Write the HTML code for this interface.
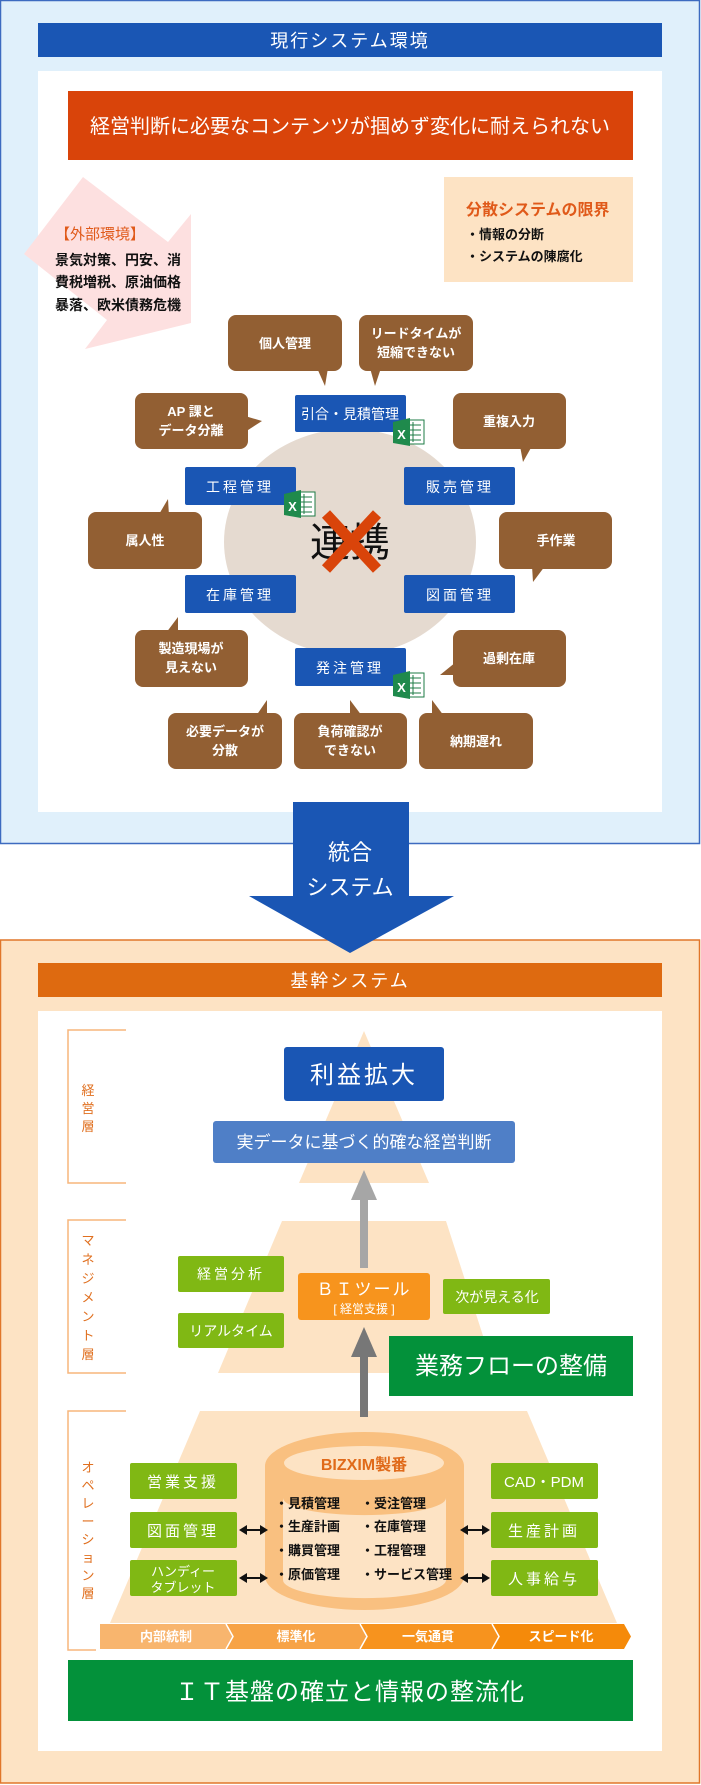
<!DOCTYPE html>
<html><head><meta charset="utf-8"><style>
html,body{margin:0;padding:0;background:#fff;}
svg{display:block;font-family:"Liberation Sans","Noto Sans CJK JP",sans-serif;}
.w{fill:#fff;}
.b{font-weight:bold;}
</style></head><body>
<svg width="701" height="1785" viewBox="0 0 701 1785" xmlns="http://www.w3.org/2000/svg">
<!-- TOP SECTION -->
<rect x="0.5" y="0.5" width="699" height="843" fill="#e0f0fb" stroke="#3d6bc0" stroke-width="1.5"/>
<rect x="38" y="23" width="624" height="34" fill="#1a56b4"/>
<text x="350" y="47" text-anchor="middle" class="w" font-size="18" letter-spacing="2">現行システム環境</text>
<rect x="38" y="71" width="624" height="741" fill="#fff"/>
<rect x="68" y="91" width="565" height="69" fill="#d9440a"/>
<text x="350" y="133" text-anchor="middle" class="w" font-size="20">経営判断に必要なコンテンツが掴めず変化に耐えられない</text>
<polygon points="83,177 168,242 191,214 191,323 85,349 107,320 24,254" fill="#fde0e0"/>
<text x="55" y="239" fill="#e05a1a" font-size="15">【外部環境】</text>
<text x="55" y="265" font-size="14" class="b" fill="#111">景気対策、円安、消</text>
<text x="55" y="287" font-size="14" class="b" fill="#111">費税増税、原油価格</text>
<text x="55" y="310" font-size="14" class="b" fill="#111">暴落、欧米債務危機</text>
<rect x="444" y="177" width="189" height="105" fill="#fde3c4"/>
<text x="466" y="215" fill="#e05a1a" font-size="16" class="b">分散システムの限界</text>
<text x="466" y="239" fill="#111" font-size="13" class="b">・情報の分断</text>
<text x="466" y="261" fill="#111" font-size="13" class="b">・システムの陳腐化</text>

<ellipse cx="350" cy="542" rx="126" ry="113" fill="#e5dad0"/>
<text x="350" y="556" text-anchor="middle" font-size="40" fill="#111">連携</text>
<line x1="326" y1="514" x2="377" y2="569" stroke="#d9440a" stroke-width="11"/>
<line x1="377" y1="514" x2="326" y2="569" stroke="#d9440a" stroke-width="11"/>

<g font-size="14" class="w" text-anchor="middle">
<rect x="295" y="395" width="111" height="37" rx="2" fill="#1a56b4"/><text x="350" y="419">引合・見積管理</text>
<rect x="185" y="467" width="111" height="38" rx="2" fill="#1a56b4"/><text x="240" y="492" letter-spacing="3">工程管理</text>
<rect x="404" y="467" width="111" height="38" rx="2" fill="#1a56b4"/><text x="460" y="492" letter-spacing="3">販売管理</text>
<rect x="185" y="575" width="111" height="38" rx="2" fill="#1a56b4"/><text x="240" y="600" letter-spacing="3">在庫管理</text>
<rect x="404" y="575" width="111" height="38" rx="2" fill="#1a56b4"/><text x="460" y="600" letter-spacing="3">図面管理</text>
<rect x="295" y="648" width="111" height="38" rx="2" fill="#1a56b4"/><text x="350" y="673" letter-spacing="3">発注管理</text>
</g>
<!-- excel icons -->
<g id="xl">
<rect x="405" y="420" width="19" height="24" fill="#fff" stroke="#1e7b45" stroke-width="1"/>
<g stroke="#1e7b45" stroke-width="1"><line x1="408" y1="425" x2="421" y2="425"/><line x1="408" y1="430" x2="421" y2="430"/><line x1="408" y1="435" x2="421" y2="435"/><line x1="408" y1="440" x2="421" y2="440"/><line x1="413" y1="422" x2="413" y2="442"/></g>
<polygon points="393,422 410,418 410,446 393,443" fill="#1f8a4c"/>
<text x="401.5" y="439" text-anchor="middle" font-size="13" class="b w">X</text>
</g>
<use href="#xl" x="-109" y="72"/>
<use href="#xl" x="0" y="253"/>

<!-- bubbles -->
<g fill="#925f33">
<rect x="228" y="315" width="114" height="56" rx="8"/><polygon points="317,368 328,368 325,386"/>
<rect x="359" y="315" width="114" height="56" rx="8"/><polygon points="370,368 381,368 375,386"/>
<rect x="135" y="393" width="113" height="56" rx="8"/><polygon points="245,416 262,421 245,432"/>
<rect x="453" y="393" width="113" height="56" rx="8"/><polygon points="520,446 532,446 523,462"/>
<rect x="88" y="512" width="114" height="57" rx="8"/><polygon points="158,516 169,516 168,499"/>
<rect x="499" y="512" width="113" height="57" rx="8"/><polygon points="532,566 545,566 533,582"/>
<rect x="135" y="630" width="113" height="57" rx="8"/><polygon points="166,633 178,633 178,617"/>
<rect x="453" y="630" width="113" height="57" rx="8"/><polygon points="456,662 456,675 440,675"/>
<rect x="168" y="713" width="114" height="56" rx="8"/><polygon points="256,716 267,716 267,700"/>
<rect x="294" y="713" width="113" height="56" rx="8"/><polygon points="350,716 362,716 350,700"/>
<rect x="419" y="713" width="114" height="56" rx="8"/><polygon points="432,700 432,716 444,716"/>
</g>
<g class="w b" font-size="13" text-anchor="middle">
<text x="285" y="348">個人管理</text>
<text x="416" y="338">リードタイムが</text><text x="416" y="357">短縮できない</text>
<text x="191" y="416">AP 課と</text><text x="191" y="435">データ分離</text>
<text x="509" y="426">重複入力</text>
<text x="145" y="545">属人性</text>
<text x="556" y="545">手作業</text>
<text x="191" y="653">製造現場が</text><text x="191" y="672">見えない</text>
<text x="509" y="663">過剰在庫</text>
<text x="225" y="736">必要データが</text><text x="225" y="755">分散</text>
<text x="350" y="736">負荷確認が</text><text x="350" y="755">できない</text>
<text x="476" y="746">納期遅れ</text>
</g>

<!-- BOTTOM SECTION -->
<rect x="0.5" y="940" width="699" height="843" fill="#fde3c4" stroke="#e0762a" stroke-width="1.5"/>
<!-- big arrow -->
<polygon points="293,802 409,802 409,896 454,896 350,953 249,896 293,896" fill="#1a56b4"/>
<text x="350" y="860" text-anchor="middle" class="w" font-size="22">統合</text>
<text x="350" y="895" text-anchor="middle" class="w" font-size="22">システム</text>

<rect x="38" y="963" width="624" height="34" fill="#de6a10"/>
<text x="350" y="987" text-anchor="middle" class="w" font-size="18" letter-spacing="2">基幹システム</text>
<rect x="38" y="1011" width="624" height="740" fill="#fff"/>

<!-- brackets -->
<g fill="none" stroke="#f7b57c" stroke-width="1.5">
<polyline points="126,1030 68,1030 68,1183 126,1183"/>
<polyline points="126,1220 68,1220 68,1373 126,1373"/>
<polyline points="126,1411 68,1411 68,1650 96,1650"/>
</g>
<g fill="#e07020" font-size="13" text-anchor="middle">
<text x="88" y="1095">経</text><text x="88" y="1113">営</text><text x="88" y="1131">層</text>
<text x="88" y="1245">マ</text><text x="88" y="1264">ネ</text><text x="88" y="1283">ジ</text><text x="88" y="1302">メ</text><text x="88" y="1321">ン</text><text x="88" y="1340">ト</text><text x="88" y="1359">層</text>
<text x="88" y="1472">オ</text><text x="88" y="1490">ペ</text><text x="88" y="1508">レ</text><text x="88" y="1526">ー</text><text x="88" y="1544">シ</text><text x="88" y="1562">ョ</text><text x="88" y="1580">ン</text><text x="88" y="1598">層</text>
</g>

<!-- pyramid -->
<polygon points="364,1031 429,1183 299,1183" fill="#fde3c4"/>
<polygon points="282,1221 446,1221 495,1373 218,1373" fill="#fde3c4"/>
<polygon points="200,1411 527,1411 617,1623 110,1623" fill="#fde3c4"/>

<rect x="284" y="1047" width="160" height="54" rx="3" fill="#1a56b4"/>
<text x="364" y="1083" text-anchor="middle" class="w" font-size="24" letter-spacing="3">利益拡大</text>
<rect x="213" y="1121" width="302" height="42" rx="3" fill="#4f7fc7"/>
<text x="364" y="1148" text-anchor="middle" class="w" font-size="17">実データに基づく的確な経営判断</text>

<!-- gray arrow -->
<rect x="360" y="1195" width="8" height="73" fill="#a6a6a6"/>
<polygon points="364,1170 377,1200 351,1200" fill="#a6a6a6"/>

<g class="w" font-size="14" text-anchor="middle">
<rect x="178" y="1256" width="106" height="36" rx="2" fill="#80b814"/><text x="231" y="1279" letter-spacing="3">経営分析</text>
<rect x="178" y="1313" width="106" height="35" rx="2" fill="#80b814"/><text x="231" y="1336">リアルタイム</text>
<rect x="443" y="1279" width="107" height="35" rx="2" fill="#80b814"/><text x="497" y="1302">次が見える化</text>
</g>
<rect x="298" y="1273" width="132" height="47" rx="3" fill="#f7941d"/>
<text x="364" y="1295" text-anchor="middle" class="w" font-size="17" letter-spacing="2">ＢＩツール</text>
<text x="364" y="1313" text-anchor="middle" class="w" font-size="12">[ 経営支援 ]</text>

<rect x="360" y="1350" width="8" height="67" fill="#777"/>
<polygon points="364,1327 377,1357 351,1357" fill="#777"/>

<rect x="389" y="1336" width="244" height="60" fill="#03913a"/>
<text x="511" y="1374" text-anchor="middle" class="w" font-size="24">業務フローの整備</text>

<!-- cylinder -->
<path d="M265,1466 A99.5,34 0 0 1 464,1466 L464,1576 A99.5,34 0 0 1 265,1576 Z" fill="#f9c080"/>
<ellipse cx="364" cy="1463" rx="80" ry="17" fill="#fde3c4"/>
<path d="M283,1498 A81,17 0 0 0 446,1498 L446,1580 A81,18 0 0 1 283,1580 Z" fill="#fde3c4"/>
<text x="364" y="1470" text-anchor="middle" fill="#e06a1a" class="b" font-size="16">BIZXIM製番</text>
<g class="b" font-size="13" fill="#111">
<text x="275" y="1508">・見積管理</text><text x="361" y="1508">・受注管理</text>
<text x="275" y="1531">・生産計画</text><text x="361" y="1531">・在庫管理</text>
<text x="275" y="1555">・購買管理</text><text x="361" y="1555">・工程管理</text>
<text x="275" y="1579">・原価管理</text><text x="361" y="1579">・サービス管理</text>
</g>

<g class="w" font-size="15" text-anchor="middle">
<rect x="130" y="1463" width="107" height="36" rx="2" fill="#80b814"/><text x="183" y="1487" letter-spacing="3">営業支援</text>
<rect x="130" y="1512" width="107" height="36" rx="2" fill="#80b814"/><text x="183" y="1536" letter-spacing="3">図面管理</text>
<rect x="130" y="1560" width="107" height="36" rx="2" fill="#80b814"/><text x="183" y="1576" font-size="13">ハンディー</text><text x="183" y="1592" font-size="13">タブレット</text>
<rect x="491" y="1463" width="107" height="36" rx="2" fill="#80b814"/><text x="544" y="1487">CAD・PDM</text>
<rect x="491" y="1512" width="107" height="36" rx="2" fill="#80b814"/><text x="544" y="1536" letter-spacing="3">生産計画</text>
<rect x="491" y="1560" width="107" height="36" rx="2" fill="#80b814"/><text x="544" y="1584" letter-spacing="3">人事給与</text>
</g>
<!-- double arrows -->
<g fill="#111" stroke="#111" stroke-width="2">
<line x1="245" y1="1530" x2="262" y2="1530"/><polygon points="239,1530 247,1525 247,1535" stroke="none"/><polygon points="268,1530 260,1525 260,1535" stroke="none"/>
<line x1="245" y1="1578" x2="262" y2="1578"/><polygon points="239,1578 247,1573 247,1583" stroke="none"/><polygon points="268,1578 260,1573 260,1583" stroke="none"/>
<line x1="466" y1="1530" x2="484" y2="1530"/><polygon points="460,1530 468,1525 468,1535" stroke="none"/><polygon points="490,1530 482,1525 482,1535" stroke="none"/>
<line x1="466" y1="1578" x2="484" y2="1578"/><polygon points="460,1578 468,1573 468,1583" stroke="none"/><polygon points="490,1578 482,1573 482,1583" stroke="none"/>
</g>

<!-- chevrons -->
<polygon points="100,1624 226,1624 233,1636.5 226,1649 100,1649" fill="#f8b56e"/>
<polygon points="226,1624 360,1624 367,1636.5 360,1649 226,1649 233,1636.5" fill="#f7a346"/>
<polygon points="360,1624 492,1624 499,1636.5 492,1649 360,1649 367,1636.5" fill="#f7931e"/>
<polygon points="492,1624 624,1624 631,1636.5 624,1649 492,1649 499,1636.5" fill="#f58a0a"/>
<g stroke="#fff" stroke-width="1.5" fill="none">
<polyline points="226,1624 233,1636.5 226,1649"/><polyline points="360,1624 367,1636.5 360,1649"/><polyline points="492,1624 499,1636.5 492,1649"/>
</g>
<g class="w b" font-size="13" text-anchor="middle">
<text x="166" y="1641">内部統制</text><text x="296" y="1641">標準化</text><text x="428" y="1641">一気通貫</text><text x="561" y="1641">スピード化</text>
</g>

<rect x="68" y="1660" width="565" height="61" fill="#03913a"/>
<text x="350" y="1700" text-anchor="middle" class="w" font-size="24" letter-spacing="1">ＩＴ基盤の確立と情報の整流化</text>
</svg>
</body></html>
